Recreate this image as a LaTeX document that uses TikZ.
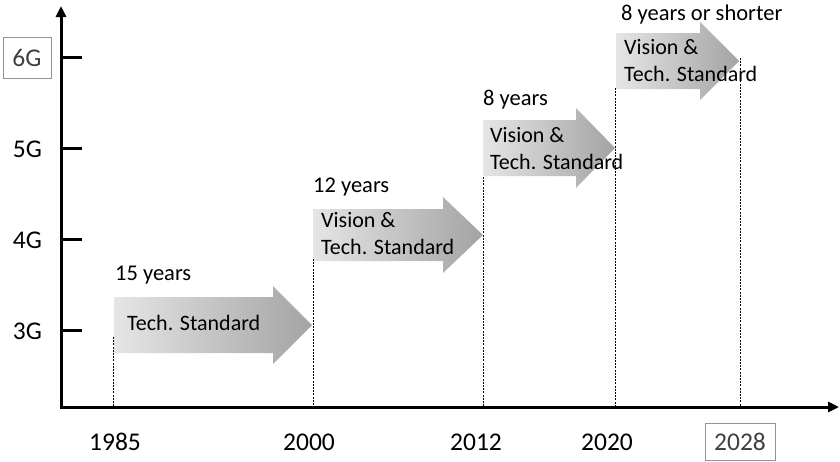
\documentclass[tikz,border=0pt]{standalone}
\usepackage{fontspec}
\setmainfont{Carlito}
\usetikzlibrary{arrows.meta}
\begin{document}
\begin{tikzpicture}[x=1pt,y=-1pt,
  axis/.style={line width=3pt,-{Triangle[length=11pt,width=10pt]}},
  tickline/.style={line width=3pt},
  guide/.style={dash pattern=on 2pt off 1.2pt,line width=0.8pt},
  glabel/.style={font=\fontsize{25.5}{30}\selectfont,inner sep=0pt},
  yearlabel/.style={font=\fontsize{25.5}{30}\selectfont,inner sep=0pt},
  boxed/.style={draw=gray!85,line width=0.8pt,text=black!75},
  arrowtext/.style={font=\fontsize{22}{27}\selectfont,align=left,anchor=west,inner sep=0pt},
  durtext/.style={font=\fontsize{22.5}{26}\selectfont,anchor=west,inner sep=0pt},
  garrow/.style={left color=gray!20,right color=gray!72,draw=none}
]
\useasboundingbox (0,0) rectangle (840,461);

% block arrows
\shade[garrow] (114,297) -- (273,297) -- (273,286) -- (312,325) -- (273,364) -- (273,353) -- (114,353) -- cycle;
\shade[garrow] (313,209) -- (443,209) -- (443,197) -- (483,235) -- (443,273) -- (443,261) -- (313,261) -- cycle;
\shade[garrow] (483,120) -- (576,120) -- (576,108) -- (615,148) -- (576,188) -- (576,176) -- (483,176) -- cycle;
\shade[garrow] (616,33) -- (700,33) -- (700,22) -- (739,61) -- (700,100) -- (700,89) -- (616,89) -- cycle;

% axes
\coordinate (O) at (61,407);
\coordinate (ytop) at (61,6);
\coordinate (xend) at (839,407);
\draw[axis] (61,409) -- (ytop);
\draw[axis] (59.5,407) -- (xend);

% ticks
\foreach \yy/\nm in {57/t6,148/t5,239/t4,330/t3}{
  \coordinate (\nm a) at (61,\yy);
  \coordinate (\nm b) at (82,\yy);
  \draw[tickline] (\nm a) -- (\nm b);
}

% guides
\foreach \xx/\yy/\nm in {113/337/d1,313/259/d2,483/177/d3,615/88/d4,740/58/d5}{
  \coordinate (\nm t) at (\xx,\yy);
  \coordinate (\nm b) at (\xx,406);
  \draw[guide] (\nm t) -- (\nm b);
}

% generation labels
\node[glabel,boxed,minimum width=48pt,minimum height=41pt] (g6) at (27,57.5) {6G};
\node[glabel] (g5) at (27.5,149) {5G};
\node[glabel] (g4) at (27.5,240) {4G};
\node[glabel] (g3) at (27.5,331) {3G};

% year labels
\node[yearlabel] (y1985) at (115,442) {1985};
\node[yearlabel] (y2000) at (309,442) {2000};
\node[yearlabel] (y2012) at (476,442) {2012};
\node[yearlabel] (y2020) at (607,442) {2020};
\node[yearlabel,boxed,minimum width=70pt,minimum height=37pt] (y2028) at (740,441.5) {2028};

% durations
\node[durtext] (dur1) at (115,275) {15 years};
\node[durtext] (dur2) at (313,187) {12 years};
\node[durtext] (dur3) at (483,100) {8 years};
\node[durtext] (dur4) at (621,14) {8 years or shorter};

% arrow texts
\node[arrowtext] (a1) at (127,323) {Tech. Standard};
\node[arrowtext] (a2) at (321,234) {Vision \&\\Tech. Standard};
\node[arrowtext] (a3) at (490,149) {Vision \&\\Tech. Standard};
\node[arrowtext] (a4) at (624,61) {Vision \&\\Tech. Standard};
\end{tikzpicture}
\end{document}
